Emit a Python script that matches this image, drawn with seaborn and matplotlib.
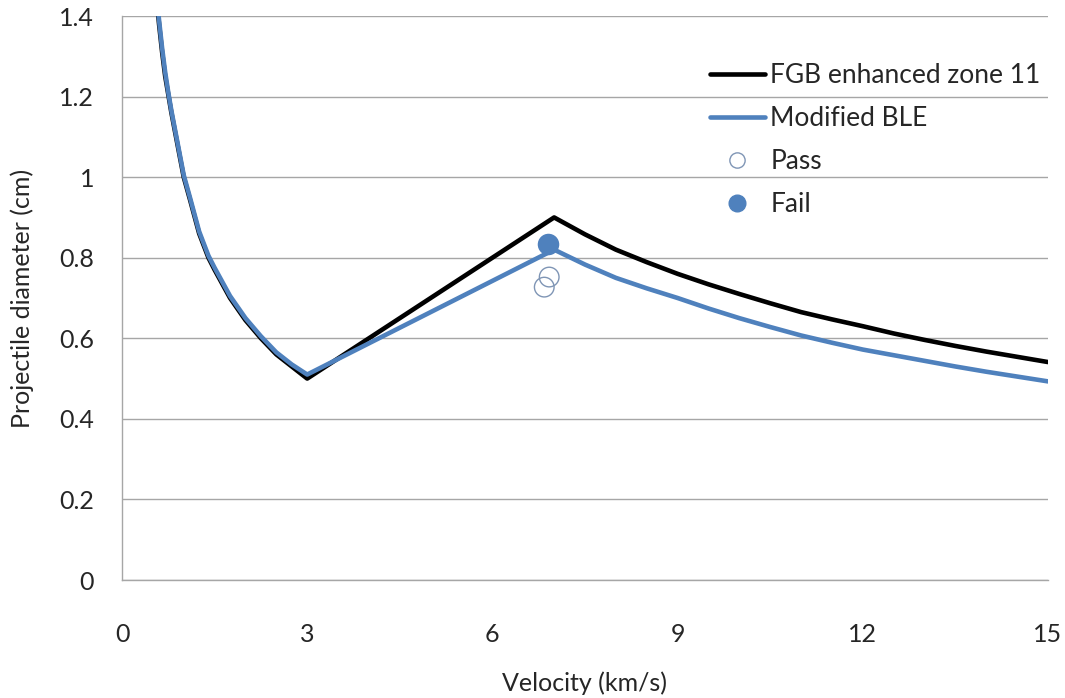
import matplotlib
matplotlib.use("Agg")
import matplotlib.pyplot as plt
import seaborn as sns
import pandas as pd
from matplotlib.lines import Line2D

# ---- data ----
fgb_velocity = [0.5, 0.55, 0.6, 0.65, 0.7, 0.75, 0.8, 0.9, 1.0, 1.1, 1.25, 1.4, 1.5, 1.75, 2.0, 2.25, 2.5, 2.75, 3.0,
                7.0, 7.5, 8.0, 8.5, 9.0, 9.5, 10.0, 10.5, 11.0, 11.5, 12.0, 12.5, 13.0, 13.5, 14.0, 14.5, 15.0]
fgb_diameter = [1.55, 1.46, 1.38, 1.31, 1.25, 1.205, 1.16, 1.08, 1.00, 0.945, 0.86, 0.80, 0.77, 0.70, 0.645, 0.60, 0.56, 0.53, 0.50,
                0.90, 0.858, 0.82, 0.789, 0.76, 0.734, 0.71, 0.687, 0.665, 0.647, 0.63, 0.612, 0.596, 0.581, 0.567, 0.554, 0.541]

ble_velocity = [0.5, 0.55, 0.6, 0.65, 0.7, 0.75, 0.8, 0.9, 1.0, 1.1, 1.25, 1.4, 1.5, 1.75, 2.0, 2.25, 2.5, 2.75, 3.0,
                7.0, 7.5, 8.0, 8.5, 9.0, 9.5, 10.0, 10.5, 11.0, 11.5, 12.0, 12.5, 13.0, 13.5, 14.0, 14.5, 15.0]
ble_diameter = [1.56, 1.47, 1.39, 1.32, 1.26, 1.21, 1.165, 1.085, 1.005, 0.95, 0.865, 0.805, 0.775, 0.705, 0.65, 0.605, 0.565, 0.535, 0.51,
                0.82, 0.783, 0.75, 0.724, 0.70, 0.674, 0.65, 0.628, 0.607, 0.589, 0.572, 0.558, 0.544, 0.53, 0.517, 0.505, 0.493]

pass_velocity = [6.92, 6.84]
pass_diameter = [0.752, 0.727]
fail_velocity = [6.90]
fail_diameter = [0.833]

x_ticks = [0, 3, 6, 9, 12, 15]
y_ticks = [0, 0.2, 0.4, 0.6, 0.8, 1.0, 1.2, 1.4]
y_tick_labels = ["0", "0.2", "0.4", "0.6", "0.8", "1", "1.2", "1.4"]

# ---- style ----
sns.set_theme(style="white")
plt.rcParams["font.family"] = ["Lato", "DejaVu Sans"]

BLACK = "#000000"
BLUE = "#4F81BD"
GRID = "#A6A6A6"
TEXT = "#262626"

fig = plt.figure(figsize=(10.65, 6.98), dpi=100)
ax = fig.add_axes([122 / 1065, 118 / 698, (1048 - 122) / 1065, (580 - 16) / 698])

fgb = pd.DataFrame({"v": fgb_velocity, "d": fgb_diameter})
ble = pd.DataFrame({"v": ble_velocity, "d": ble_diameter})
sns.lineplot(data=fgb, x="v", y="d", ax=ax, color=BLACK, lw=3.3, sort=False,
             estimator=None, zorder=3)
sns.lineplot(data=ble, x="v", y="d", ax=ax, color=BLUE, lw=3.3, sort=False,
             estimator=None, zorder=4)

pts_pass = pd.DataFrame({"v": pass_velocity, "d": pass_diameter})
pts_fail = pd.DataFrame({"v": fail_velocity, "d": fail_diameter})
sns.scatterplot(data=pts_pass, x="v", y="d", ax=ax, s=200, facecolor="none",
                edgecolor="#7F95B5", linewidth=1.0, zorder=5)
sns.scatterplot(data=pts_fail, x="v", y="d", ax=ax, s=240, color=BLUE,
                edgecolor=BLUE, linewidth=0, zorder=6)

ax.set_xlim(0, 15)
ax.set_ylim(0, 1.4)
ax.set_xticks(x_ticks)
ax.set_yticks(y_ticks)
ax.set_yticklabels(y_tick_labels)
ax.yaxis.grid(True, color=GRID, lw=1.0)
ax.xaxis.grid(False)
ax.set_axisbelow(True)
for s in ["top", "right"]:
    ax.spines[s].set_visible(False)
for s in ["left", "bottom"]:
    ax.spines[s].set_color(GRID)
    ax.spines[s].set_linewidth(1.0)
ax.tick_params(axis="both", length=0, labelsize=18, colors=TEXT)
ax.tick_params(axis="x", pad=31)
ax.tick_params(axis="y", pad=20)

ax.set_xlabel("Velocity (km/s)", fontsize=18, color=TEXT)
ax.set_ylabel("Projectile diameter (cm)", fontsize=18, color=TEXT)
ax.xaxis.label.set_va("center")
ax.yaxis.label.set_va("center")
ax.xaxis.set_label_coords(0.5, -0.183)
ax.yaxis.set_label_coords(-0.108, 0.5)

handles = [
    Line2D([0], [0], color=BLACK, lw=3.3),
    Line2D([0], [0], color=BLUE, lw=3.3),
    Line2D([0], [0], marker="o", ls="none", markerfacecolor="none",
           markeredgecolor="#7F95B5", markersize=11, markeredgewidth=1.0),
    Line2D([0], [0], marker="o", ls="none", markerfacecolor=BLUE,
           markeredgecolor=BLUE, markersize=12),
]
labels = ["FGB enhanced zone 11", "Modified BLE", "Pass", "Fail"]
leg = ax.legend(handles, labels, loc="upper left", bbox_to_anchor=(0.635, 0.916),
                frameon=False, fontsize=19, handlelength=2.08, handletextpad=0.2,
                labelspacing=0.68, borderaxespad=0, borderpad=0)
for t in leg.get_texts():
    t.set_color(TEXT)

fig.savefig("out.png", dpi=100)
